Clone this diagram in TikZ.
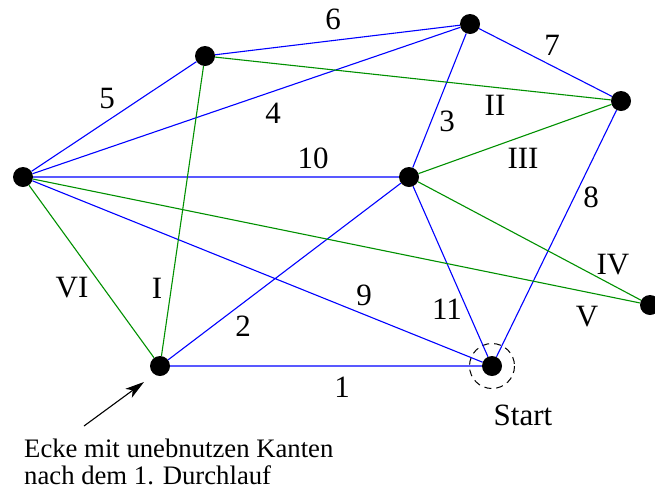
\documentclass[tikz,border=0pt]{standalone}
\usepackage{fontspec}
\setmainfont{Liberation Serif}
\usetikzlibrary{arrows.meta}
\definecolor{roundone}{RGB}{0,0,255}
\definecolor{roundtwo}{RGB}{0,144,0}

\begin{document}
\begin{tikzpicture}[x=1pt, y=-1pt,
    vertex/.style={circle, fill=black, inner sep=0pt, minimum size=20pt},
    lab/.style={inner sep=0pt, font=\fontsize{31}{31}\selectfont},
    firstrun/.style={draw=roundone, line width=1.1pt},
    secondrun/.style={draw=roundtwo, line width=1.1pt}]
    %the frame
    \useasboundingbox (0,0) rectangle (655,488);
    %the vertices
    \node[vertex] (a) at (23,177) {};
    \node[vertex] (b) at (205,56) {};
    \node[vertex] (c) at (470,24) {};
    \node[vertex] (d) at (621,101) {};
    \node[vertex] (e) at (409,177) {};
    \node[vertex] (f) at (650,305) {};
    \node[vertex] (g) at (160,366) {};
    \node[vertex] (s) at (492,366) {};
    \draw[dash pattern=on 7pt off 5pt, line width=1pt] (s) circle (22.5);
    %the first run
    \draw[firstrun] (g)--(s) (g)--(e) (e)--(c) (a)--(c) (a)--(b) (b)--(c)
        (c)--(d) (s)--(d) (a)--(s) (a)--(e) (e)--(s);
    %the second run
    \draw[secondrun] (g)--(b) (b)--(d) (e)--(d) (e)--(f) (a)--(f) (a)--(g);
    %the numbers
    \path (342,387) node[lab] (n1) {1} (243,326) node[lab] (n2) {2} (447,121) node[lab] (n3) {3}
        (273,113) node[lab] (n4) {4} (107,98) node[lab] (n5) {5} (333,19) node[lab] (n6) {6}
        (552,45) node[lab] (n7) {7} (591,197) node[lab] (n8) {8} (364,295) node[lab] (n9) {9}
        (313,158) node[lab] (n10) {10} (447,309) node[lab] (n11) {11};
    \path (157,288) node[lab] (r1) {I} (495,105) node[lab] (r2) {II} (523,158) node[lab] (r3) {III}
        (613,265) node[lab] (r4) {IV} (587,317) node[lab] (r5) {V} (72,288) node[lab] (r6) {VI};
    \node[lab] (start) at (523,415) {Start};
    %the note
    \node[inner sep=0pt, anchor=base west, font=\fontsize{26.7}{27.5}\selectfont] (note1) at (24,457.5) {Ecke mit unebnutzen Kanten};
    \node[inner sep=0pt, anchor=base west, font=\fontsize{26.7}{27.5}\selectfont] (note2) at (24,484) {nach dem 1. Durchlauf};
    \coordinate (tail) at (84,426);
    \coordinate (tip) at (144,382);
    \draw[-{Stealth[length=19pt, width=11pt, inset=5pt]}, line width=1.1pt] (tail) -- (tip);
\end{tikzpicture}
\end{document}
